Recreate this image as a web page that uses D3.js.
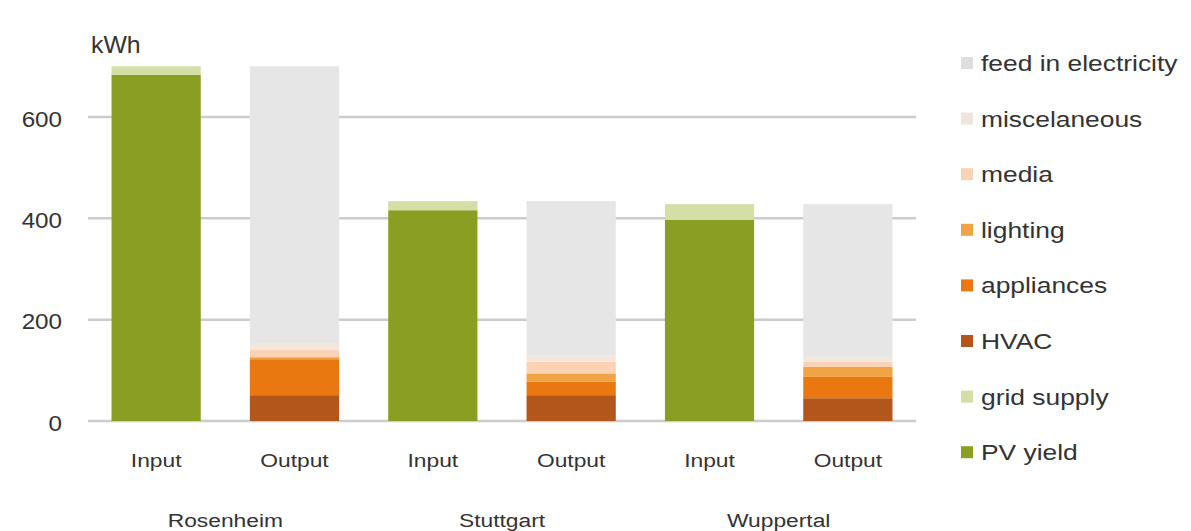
<!DOCTYPE html>
<html><head><meta charset="utf-8">
<script src="https://cdn.jsdelivr.net/npm/d3@7"></script>
<style>body{margin:0;background:#fff;} text{font-family:"Liberation Sans",Arial,sans-serif;fill:#333;}</style>
</head><body>
<svg id="c" width="1191" height="531"></svg>
<script>
const bars = ["R-In","R-Out","S-In","S-Out","W-In","W-Out"];
const barLabels = ["Input","Output","Input","Output","Input","Output"];
const cities = ["Rosenheim","Stuttgart","Wuppertal"];
const seriesNames = ["PV yield","grid supply","HVAC","appliances","lighting","media","miscelaneous","feed in electricity"];
const pvYield     = [683,0,416,0,397,0];
const gridSupply  = [17,0,18,0,31,0];
const hvac        = [0,51,0,51,0,45];
const appliances  = [0,71,0,27,0,42];
const lighting    = [0,4,0,16,0,20];
const media       = [0,14,0,23,0,10];
const misc        = [0,14,0,13,0,10];
const feedIn      = [0,546,0,304,0,301];
const colors = ["#8a9f22","#d3dfa6","#b3561c","#e8780f","#f0a445","#fbd2b4","#f3e6dc","#e6e6e6"];
const legendColors = ["#8a9f22","#d3dfa6","#b3561c","#e8780f","#f0a445","#fbd2b4","#f0e4de","#dedede"];
const yTicks = [0,200,400,600];

const seriesVals = [pvYield,gridSupply,hvac,appliances,lighting,media,misc,feedIn];
const table = bars.map((b,i)=>{const o={bar:b}; seriesNames.forEach((s,j)=>o[s]=seriesVals[j][i]); return o;});
const stack = d3.stack().keys(seriesNames)(table);

const svg = d3.select("#c");
const x = d3.scaleBand().domain(bars).range([88,916]).paddingInner(0.355).paddingOuter(0.17);
const y = d3.scaleLinear().domain([0,600]).range([421,117]);

function stext(g, tx, ty, size, sx, anchor, str){
  return g.append("text").attr("transform",`translate(${tx},${ty}) scale(${sx},1)`)
    .attr("font-size",size).attr("text-anchor",anchor).text(str);
}

// gridlines
svg.append("g").selectAll("line").data(yTicks).join("line")
  .attr("x1",88).attr("x2",916).attr("y1",d=>y(d)).attr("y2",d=>y(d))
  .attr("stroke","#cccccc").attr("stroke-width",2.5);

// y labels
const yl = svg.append("g");
yTicks.forEach(d=>stext(yl, 62, y(d)+9.5, 22, 1.1, "end", d));
stext(svg, 91, 53, 23, 1.08, "start", "kWh");

// bars
svg.append("g").selectAll("g").data(stack).join("g")
  .attr("fill",(d,i)=>colors[i])
  .selectAll("rect").data(d=>d).join("rect")
  .attr("x",d=>x(d.data.bar)).attr("width",x.bandwidth())
  .attr("y",d=>y(d[1])).attr("height",d=>Math.max(0,y(d[0])-y(d[1])));

// x labels
const xl = svg.append("g");
bars.forEach((b,i)=>stext(xl, x(b)+x.bandwidth()/2, 467, 19, 1.2, "middle", barLabels[i]));
cities.forEach((c,i)=>stext(xl, (x(bars[2*i])+x(bars[2*i+1])+x.bandwidth())/2, 527, 19, 1.2, "middle", c));

// legend (reverse order)
const legendOrder = seriesNames.map((s,i)=>i).reverse();
const lg = svg.append("g");
legendOrder.forEach((d,k)=>{
  const by = 71 + k*55.6;
  lg.append("rect").attr("x",961).attr("y",by-14).attr("width",12).attr("height",12).attr("fill",legendColors[d]);
  stext(lg, 981, by, 22, 1.2, "start", seriesNames[d]);
});
</script>
</body></html>
